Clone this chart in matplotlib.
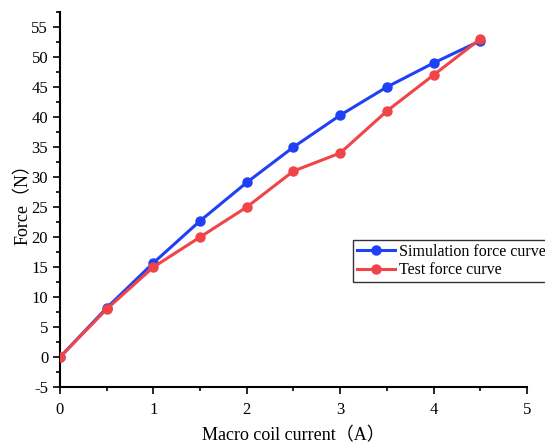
import matplotlib
matplotlib.use("Agg")
import matplotlib.pyplot as plt
from matplotlib.ticker import MultipleLocator

current = [0, 0.5, 1, 1.5, 2, 2.5, 3, 3.5, 4, 4.5]
sim_force = [0, 8.2, 15.7, 22.7, 29.1, 35.0, 40.3, 45.0, 49.0, 52.7]
test_force = [0, 8.0, 15.0, 20.0, 25.0, 31.0, 34.0, 41.0, 47.0, 53.0]

plt.rcParams['font.family'] = ['Liberation Serif', 'Noto Sans CJK SC']
plt.rcParams['axes.unicode_minus'] = False

fig = plt.figure(figsize=(5.45, 4.43), dpi=100)
ax = fig.add_axes([0.110, 0.126, 0.857, 0.847])

ax.plot(current, sim_force, color='#2040f5', lw=2.2, marker='o', ms=6.5,
        label='Simulation force curve', zorder=3)
ax.plot(current, test_force, color='#f04448', lw=2.2, marker='o', ms=6.5,
        label='Test force curve', zorder=4)

ax.set_xlim(0, 5)
ax.set_ylim(-5, 57.5)
ax.xaxis.set_major_locator(MultipleLocator(1))
ax.xaxis.set_minor_locator(MultipleLocator(0.5))
ax.yaxis.set_major_locator(MultipleLocator(5))
ax.yaxis.set_minor_locator(MultipleLocator(2.5))
ax.tick_params(which='major', direction='out', length=5, width=1.2, labelsize=12)
ax.tick_params(axis='x', which='major', pad=6)
ax.tick_params(which='minor', direction='out', length=3, width=1.2)
for s in ['top', 'right']:
    ax.spines[s].set_visible(False)
for s in ['left', 'bottom']:
    ax.spines[s].set_linewidth(1.5)

ax.set_xlabel('Macro coil current（A）', fontsize=13, labelpad=6)
ax.set_ylabel('Force（N）', fontsize=13, labelpad=0)

leg = fig.legend(handles=ax.get_lines(), loc='upper left',
                 bbox_to_anchor=(353 / 545, 1 - 240 / 443), fontsize=11.5,
                 frameon=True, fancybox=False, edgecolor='black',
                 borderpad=0.25, handlelength=2.4, labelspacing=0.15,
                 handletextpad=0.2, borderaxespad=0)
leg.get_frame().set_linewidth(1.0)

fig.savefig('out.png', dpi=100)
